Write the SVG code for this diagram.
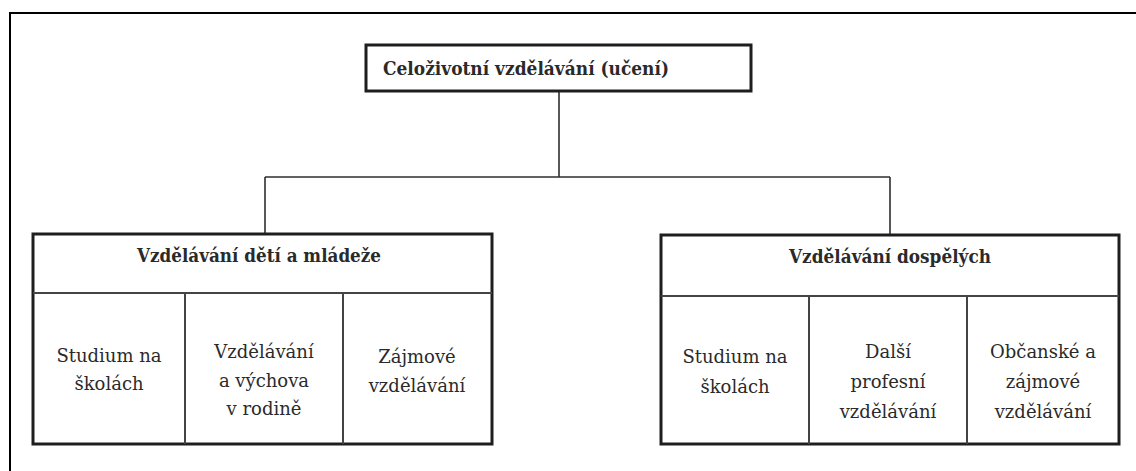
<svg xmlns="http://www.w3.org/2000/svg" width="1136" height="471" viewBox="0 0 1136 471">
  <style>
    .box { fill: #ffffff; stroke: #1e1e1e; stroke-width: 3; }
    .div { fill: none; stroke: #444; stroke-width: 2; }
    .conn { fill: none; stroke: #2e2e2e; stroke-width: 1.6; }
    .frame { fill: none; stroke: #000; stroke-width: 2; }
    .t { font-family: "DejaVu Serif", "Liberation Serif", serif; fill: #2a2a2a; }
    .b { font-weight: bold; font-size: 18px; }
    .r { font-size: 18px; text-anchor: middle; }
  </style>
  <rect width="1136" height="471" fill="#ffffff"/>
  <path class="frame" d="M10,471 V13 H1136"/>

  <g id="connectors">
    <path class="conn" d="M559,91 V177"/>
    <path class="conn" d="M265,177 H890"/>
    <path class="conn" d="M265,177 V234"/>
    <path class="conn" d="M890,177 V235"/>
  </g>

  <g id="root">
    <rect class="box" x="366" y="45" width="385" height="46"/>
    <text class="t b" x="383" y="75" textLength="286" lengthAdjust="spacingAndGlyphs">Celoživotní  vzdělávání  (učení)</text>
  </g>

  <g id="youth">
    <rect class="box" x="33" y="234" width="459" height="210"/>
    <path class="div" d="M33,293 H492 M185,293 V444 M343,293 V444"/>
    <text class="t b" x="137" y="262" textLength="244" lengthAdjust="spacingAndGlyphs">Vzdělávání  dětí a mládeže</text>
  </g>
  <g id="youth-school">
    <text class="t r" x="109" y="362">Studium na</text>
    <text class="t r" x="109" y="390">školách</text>
  </g>
  <g id="youth-family">
    <text class="t r" x="264" y="358">Vzdělávání</text>
    <text class="t r" x="264" y="387">a výchova</text>
    <text class="t r" x="264" y="415">v rodině</text>
  </g>
  <g id="youth-interest">
    <text class="t r" x="417" y="363">Zájmové</text>
    <text class="t r" x="417" y="392">vzdělávání</text>
  </g>

  <g id="adult">
    <rect class="box" x="661" y="235" width="458" height="209"/>
    <path class="div" d="M661,296 H1119 M809,296 V444 M967,296 V444"/>
    <text class="t b" x="789" y="263" textLength="202" lengthAdjust="spacingAndGlyphs">Vzdělávání  dospělých</text>
  </g>
  <g id="adult-school">
    <text class="t r" x="735" y="363">Studium na</text>
    <text class="t r" x="735" y="393">školách</text>
  </g>
  <g id="adult-professional">
    <text class="t r" x="888" y="358">Další</text>
    <text class="t r" x="888" y="388">profesní</text>
    <text class="t r" x="888" y="418">vzdělávání</text>
  </g>
  <g id="adult-civic">
    <text class="t r" x="1043" y="358">Občanské a</text>
    <text class="t r" x="1043" y="388">zájmové</text>
    <text class="t r" x="1043" y="418">vzdělávání</text>
  </g>
</svg>
